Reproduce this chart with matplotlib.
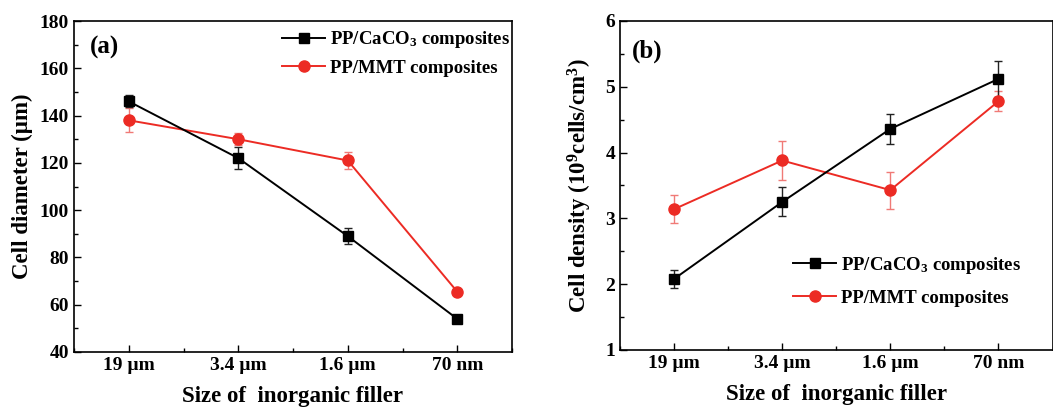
import matplotlib
matplotlib.use('Agg')
import matplotlib.pyplot as plt
from matplotlib.ticker import MultipleLocator

plt.rcParams['font.family'] = 'Liberation Serif'
plt.rcParams['font.weight'] = 'bold'
plt.rcParams['axes.labelweight'] = 'bold'
plt.rcParams['mathtext.fontset'] = 'custom'
plt.rcParams['mathtext.rm'] = 'Liberation Serif:bold'
plt.rcParams['mathtext.it'] = 'Liberation Serif:bold'
plt.rcParams['mathtext.bf'] = 'Liberation Serif:bold'

sizes = ['19 µm', '3.4 µm', '1.6 µm', '70 nm']

# panel (a): cell diameter (um)
dia_caco3 = [146, 122, 89, 54]
dia_caco3_err = [2.5, 4.5, 3.5, 1.0]
dia_mmt = [138, 130, 121, 65.5]
dia_mmt_err = [5.0, 2.5, 3.5, 1.0]

# panel (b): cell density (1e9 cells/cm3)
den_caco3 = [2.08, 3.25, 4.36, 5.12]
den_caco3_err = [0.14, 0.22, 0.23, 0.27]
den_mmt = [3.14, 3.88, 3.43, 4.78]
den_mmt_err = [0.21, 0.30, 0.28, 0.15]

RED = '#ec2b24'
W, H = 1053, 408

fig = plt.figure(figsize=(W / 100, H / 100), dpi=100)
ax1 = fig.add_axes([74 / W, 1 - 352 / H, 438 / W, 331 / H])
ax2 = fig.add_axes([620 / W, 1 - 350 / H, 432.5 / W, 329 / H])

x = list(range(len(sizes)))


def draw(ax, y1, e1, y2, e2):
    # error bars first, then lines + markers (legend uses the lines only)
    ax.errorbar(x, y1, yerr=e1, fmt='none', ecolor='#222222', capsize=3,
                elinewidth=1, capthick=1, zorder=3)
    ax.errorbar(x, y2, yerr=e2, fmt='none', ecolor='#f07a76', capsize=3,
                elinewidth=1, capthick=1, zorder=2)
    ax.plot(x, y1, color='black', marker='s', markersize=7, lw=1.4,
            label='PP/CaCO$_3$ composites', zorder=4)
    ax.plot(x, y2, color=RED, marker='o', markersize=8, lw=1.4,
            label='PP/MMT composites', zorder=3)
    ax.set_xlim(-0.5, 3.5)
    ax.set_xticks(x)
    ax.set_xticklabels(sizes)
    ax.xaxis.set_minor_locator(MultipleLocator(0.5))
    ax.tick_params(which='both', direction='in', top=False, right=False,
                   labelsize=14, width=1)
    ax.tick_params(which='major', length=5)
    ax.tick_params(which='minor', length=3)
    for s in ax.spines.values():
        s.set_linewidth(1.2)
    ax.set_xlabel('Size of  inorganic filler', fontsize=16.5, labelpad=9)


draw(ax1, dia_caco3, dia_caco3_err, dia_mmt, dia_mmt_err)
ax1.set_ylim(40, 180)
ax1.yaxis.set_major_locator(MultipleLocator(20))
ax1.yaxis.set_minor_locator(MultipleLocator(10))
ax1.set_ylabel('Cell diameter (µm)', fontsize=16.5, labelpad=5)
ax1.text(0.037, 0.955, '(a)', transform=ax1.transAxes, fontsize=18,
         va='top', ha='left')
ax1.legend(loc='upper left', bbox_to_anchor=(0.475, 0.975), frameon=False,
           fontsize=13.5, handlelength=2.3, handletextpad=0.25,
           labelspacing=0.5, borderpad=0, borderaxespad=0)

draw(ax2, den_caco3, den_caco3_err, den_mmt, den_mmt_err)
ax2.set_ylim(1, 6)
ax2.yaxis.set_major_locator(MultipleLocator(1))
ax2.yaxis.set_minor_locator(MultipleLocator(0.5))
ax2.set_ylabel('Cell density (10$^9$cells/cm$^3$)', fontsize=16.5, labelpad=8)
ax2.text(0.028, 0.945, '(b)', transform=ax2.transAxes, fontsize=18,
         va='top', ha='left')
ax2.legend(loc='upper left', bbox_to_anchor=(0.40, 0.29), frameon=False,
           fontsize=13.5, handlelength=2.3, handletextpad=0.25,
           labelspacing=0.75, borderpad=0, borderaxespad=0)

fig.savefig('out.png', dpi=100)
